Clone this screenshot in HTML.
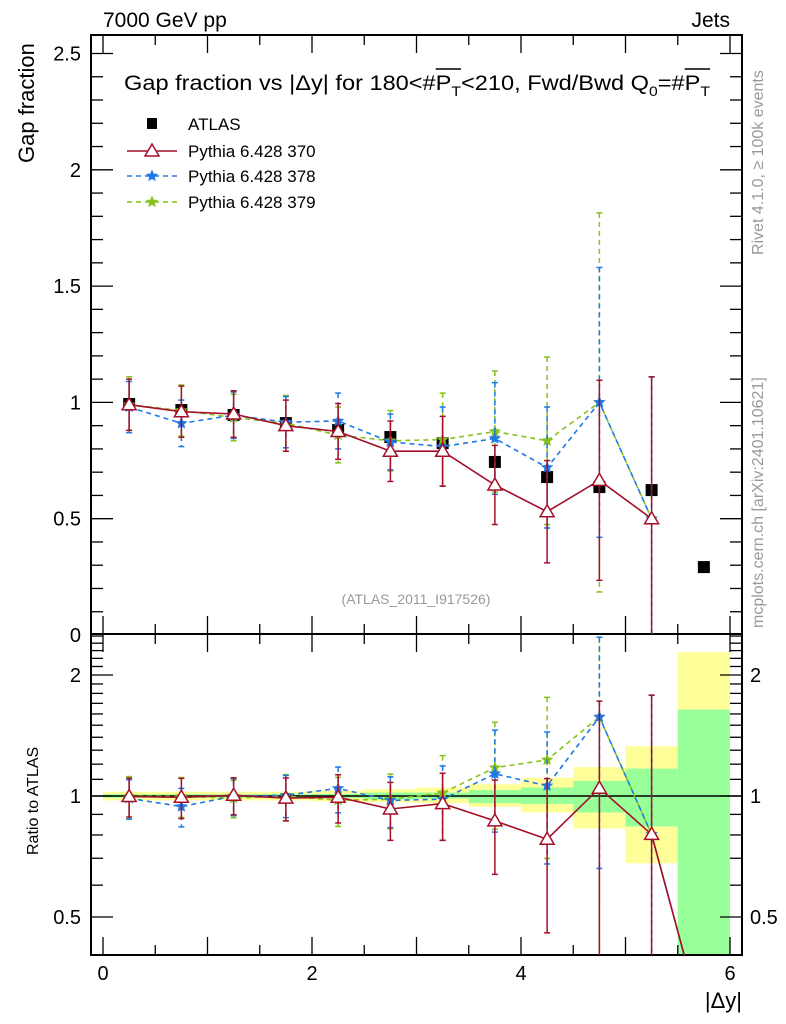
<!DOCTYPE html>
<html><head><meta charset="utf-8"><style>
body{margin:0;background:#fff;font-family:"Liberation Sans",sans-serif;overflow:hidden}
svg{display:block}
</style></head><body>
<svg id="c" width="786" height="1024" xmlns="http://www.w3.org/2000/svg" font-family="Liberation Sans, sans-serif">
<defs>
<clipPath id="cm"><rect x="91" y="35" width="651" height="599"/></clipPath>
<clipPath id="cr"><rect x="91" y="634" width="651" height="321"/></clipPath>
</defs>
<g id="bands" clip-path="url(#cr)"></g>
<g id="axes"></g>
<g id="marks"></g>
<text x="103" y="27" font-size="21">7000 GeV pp</text>
<text x="730" y="27" font-size="21" text-anchor="end">Jets</text>
<text id="title" x="124" y="90" font-size="21" textLength="586" lengthAdjust="spacingAndGlyphs">Gap fraction vs |Δy| for 180&lt;#<tspan>P</tspan><tspan font-size="14" dy="6">T</tspan><tspan dy="-6">&lt;210, Fwd/Bwd Q</tspan><tspan font-size="14" dy="6">0</tspan><tspan dy="-6">=#P</tspan><tspan font-size="14" dy="6">T</tspan></text>
<line id="ol1" x1="434" x2="455" y1="69" y2="69" stroke="#000" stroke-width="1.5"/>
<line id="ol2" x1="688" x2="709" y1="69" y2="69" stroke="#000" stroke-width="1.5"/>
<text transform="translate(34,163) rotate(-90)" font-size="22">Gap fraction</text>
<text transform="translate(38,855) rotate(-90)" font-size="16">Ratio to ATLAS</text>
<text x="742" y="1008" font-size="22" text-anchor="end">|Δy|</text>
<text transform="translate(763,255) rotate(-90)" font-size="16" fill="#999">Rivet 4.1.0, ≥ 100k events</text>
<text transform="translate(763,628) rotate(-90)" font-size="16" fill="#999">mcplots.cern.ch [arXiv:2401.10621]</text>
<text x="416" y="604" font-size="14" fill="#999" text-anchor="middle">(ATLAS_2011_I917526)</text>
<g id="legend">
<rect x="147" y="118" width="10" height="11" fill="#000"/>
<text x="188" y="130" font-size="17">ATLAS</text>
<text x="188" y="157" font-size="17">Pythia 6.428 370</text>
<text x="188" y="182" font-size="17">Pythia 6.428 378</text>
<text x="188" y="208" font-size="17">Pythia 6.428 379</text>
</g>
</svg>
<script>
var xCenters=[0.25,0.75,1.25,1.75,2.25,2.75,3.25,3.75,4.25,4.75,5.25,5.75];
var atlas=[0.993,0.967,0.946,0.911,0.881,0.851,0.825,0.744,0.679,0.636,0.623,0.292];
var p370=[0.99,0.96,0.95,0.90,0.875,0.79,0.79,0.645,0.53,0.665,0.5];
var p370err=[0.11,0.11,0.10,0.11,0.12,0.13,0.15,0.17,0.22,0.43,0.61];
var p378=[0.98,0.91,0.945,0.915,0.92,0.83,0.81,0.845,0.72,1.0,0.5];
var p378err=[0.11,0.10,0.10,0.11,0.12,0.12,0.17,0.24,0.26,0.58,0.61];
var p379=[0.99,0.965,0.935,0.91,0.86,0.835,0.84,0.875,0.835,1.0,0.5];
var p379err=[0.12,0.11,0.10,0.12,0.12,0.13,0.2,0.26,0.36,0.815,0.61];
var yellowHi=[1.025,1.025,1.025,1.025,1.03,1.04,1.05,1.07,1.11,1.18,1.33,2.28];
var yellowLo=[0.975,0.975,0.975,0.975,0.97,0.965,0.96,0.94,0.91,0.83,0.68,0.3];
var greenHi=[1.01,1.01,1.01,1.01,1.012,1.02,1.02,1.035,1.05,1.09,1.17,1.64];
var greenLo=[0.99,0.99,0.99,0.99,0.988,0.98,0.985,0.96,0.955,0.91,0.84,0.3];
var mainTicks=[0,0.5,1,1.5,2,2.5];
var ratioTicks=[0.5,1,2];
var xTicks=[0,2,4,6];

var PL=91,PR=742,PT=35,PM=634,PB=955;
function X(v){return 103+v*104.5;}
function Y(v){return 635-v*232.6;}
function RY(v){return 796-Math.log(v)/Math.LN2*121;}
var NS='http://www.w3.org/2000/svg';
function el(t,a,p){var e=document.createElementNS(NS,t);for(var k in a){e.setAttribute(k,String(a[k]));}p.appendChild(e);return e;}
function txt(s,a,p){var e=el('text',a,p);e.textContent=s;return e;}
var bandG=document.getElementById('bands');
var axG=document.getElementById('axes');
var mkG=document.getElementById('marks');
var legG=document.getElementById('legend');

// position title overlines over the P characters
try{
 var tl=document.getElementById('title');
 var str=tl.textContent;
 var i1=str.indexOf('P'), i2=str.lastIndexOf('P');
 var a1=tl.getExtentOfChar(i1), b1=tl.getExtentOfChar(i1+1);
 var a2=tl.getExtentOfChar(i2), b2=tl.getExtentOfChar(i2+1);
 var o1=document.getElementById('ol1'), o2=document.getElementById('ol2');
 o1.setAttribute('x1',a1.x);o1.setAttribute('x2',b1.x+b1.width);
 o2.setAttribute('x1',a2.x);o2.setAttribute('x2',b2.x+b2.width);
}catch(err){}

for(var i=0;i<xCenters.length;i++){
 var c=xCenters[i];
 var r=el('rect',{x:X(c-0.25),y:RY(yellowHi[i]),width:X(0.5)-X(0),height:RY(yellowLo[i])-RY(yellowHi[i]),fill:'#ffff99'},bandG);
 
 
 var g=el('rect',{x:X(c-0.25),y:RY(greenHi[i]),width:X(0.5)-X(0),height:RY(greenLo[i])-RY(greenHi[i]),fill:'#99ff99'},bandG);
 
 
}
el('line',{x1:PL,x2:PR,y1:RY(1),y2:RY(1),stroke:'#000','stroke-width':1.5},axG);
el('rect',{x:PL,y:PT,width:PR-PL,height:PM-PT,fill:'none',stroke:'#000','stroke-width':2},axG);
el('rect',{x:PL,y:PM,width:PR-PL,height:PB-PM,fill:'none',stroke:'#000','stroke-width':2},axG);
for(var k=0;k<=26;k++){var v=k/10;var y=Y(v);if(y<PT||y>PM)continue;var l=(k%5==0)?22:12;
 el('line',{x1:PL,x2:PL+l,y1:y,y2:y,stroke:'#000','stroke-width':1.3},axG);
 el('line',{x1:PR,x2:PR-l,y1:y,y2:y,stroke:'#000','stroke-width':1.3},axG);}
mainTicks.forEach(function(v){var t=txt(String(v),{x:PL-10,y:Y(v)+7,'font-size':20,'text-anchor':'end'},axG);
 
 });
for(var k=4;k<=25;k++){var v=k/10;var y=RY(v);if(y<PM||y>PB)continue;var l=(k==5||k==10||k==20)?22:12;
 el('line',{x1:PL,x2:PL+l,y1:y,y2:y,stroke:'#000','stroke-width':1.3},axG);
 el('line',{x1:PR,x2:PR-l,y1:y,y2:y,stroke:'#000','stroke-width':1.3},axG);}
ratioTicks.forEach(function(v){var a=txt(String(v),{x:PL-10,y:RY(v)+7,'font-size':20,'text-anchor':'end'},axG);
 
 
 var b=txt(String(v),{x:PR+8,y:RY(v)+7,'font-size':20},axG);
 
 });
for(var k=0;k<=12;k++){var x=X(k/2);var l=(k%2==0)?18:10;
 [[PT,1],[PM,1],[PM,-1],[PB,-1]].forEach(function(p){el('line',{x1:x,x2:x,y1:p[0],y2:p[0]+p[1]*l,stroke:'#000','stroke-width':1.3},axG);});}
xTicks.forEach(function(v){var t=txt(String(v),{x:X(v),y:980,'font-size':20,'text-anchor':'middle'},axG);
 
 });

function star(x,y,r,col,p){var d='';for(var i=0;i<10;i++){var a=-Math.PI/2+i*Math.PI/5;var rr=(i%2)?r*0.45:r;d+=(i?'L':'M')+(x+rr*Math.cos(a)).toFixed(2)+' '+(y+rr*Math.sin(a)).toFixed(2);}return el('path',{d:d+'Z',fill:col},p);}
function tri(x,y,p){return el('path',{d:'M'+x+' '+(y-7)+'L'+(x+7)+' '+(y+5)+'L'+(x-7)+' '+(y+5)+'Z',fill:'#fff',stroke:'#a50f2a','stroke-width':1.5},p);}
var series=[
 {name:'pythia-370',v:p370,e:p370err,col:'#a50f2a',dash:'none',mk:'tri'},
 {name:'pythia-378',v:p378,e:p378err,col:'#1e78e6',dash:'5,4',mk:'star'},
 {name:'pythia-379',v:p379,e:p379err,col:'#86c21a',dash:'5,4',mk:'star'}];

function drawSeries(s,ratio){
 var mapY=ratio?RY:Y;
 var g=el('g',{'clip-path':ratio?'url(#cr)':'url(#cm)'},mkG);
 
 
 var n=s.v.length,pts=[];
 for(var i=0;i<n;i++){var d=ratio?atlas[i]:1;var v=s.v[i]/d,e=s.e[i]/d,x=X(xCenters[i]);
  var lo=Math.max(v-e,ratio?0.35:0);
  var hi=Math.min(v+e,ratio?2.6:2.6);
  el('line',{x1:x,x2:x,y1:mapY(hi),y2:mapY(lo),stroke:s.col,'stroke-width':1.5,'stroke-dasharray':s.dash},g);
  el('line',{x1:x-3,x2:x+3,y1:mapY(v+e),y2:mapY(v+e),stroke:s.col,'stroke-width':1.5},g);
  el('line',{x1:x-3,x2:x+3,y1:mapY(lo),y2:mapY(lo),stroke:s.col,'stroke-width':1.5},g);
  pts.push(x.toFixed(1)+','+mapY(v).toFixed(1));}
 if(ratio)pts.push(X(5.75).toFixed(1)+','+(PB+73));
 el('polyline',{points:pts.join(' '),fill:'none',stroke:s.col,'stroke-width':1.6,'stroke-dasharray':s.dash},g);
 for(var i=0;i<n;i++){var d=ratio?atlas[i]:1;var x=X(xCenters[i]),y=mapY(s.v[i]/d);
  var m=(s.mk=='tri')?tri(x,y,g):star(x,y,6.5,s.col,g);
  
  }
}
var ag=el('g',{'clip-path':'url(#cm)'},mkG);


for(var i=0;i<atlas.length;i++){var r=el('rect',{x:X(xCenters[i])-6,y:Y(atlas[i])-6,width:12,height:12,fill:'#000'},ag);
 
 }
for(var j=series.length-1;j>=0;j--){drawSeries(series[j],false);drawSeries(series[j],true);}

var ly=[151,176,202];
for(var k=0;k<3;k++){var s=series[k];
 el('line',{x1:127,x2:177,y1:ly[k],y2:ly[k],stroke:s.col,'stroke-width':1.6,'stroke-dasharray':s.dash},legG);
 var m=(s.mk=='tri')?tri(152,ly[k],legG):star(152,ly[k],6.5,s.col,legG);
 
 }
</script>
</body></html>
